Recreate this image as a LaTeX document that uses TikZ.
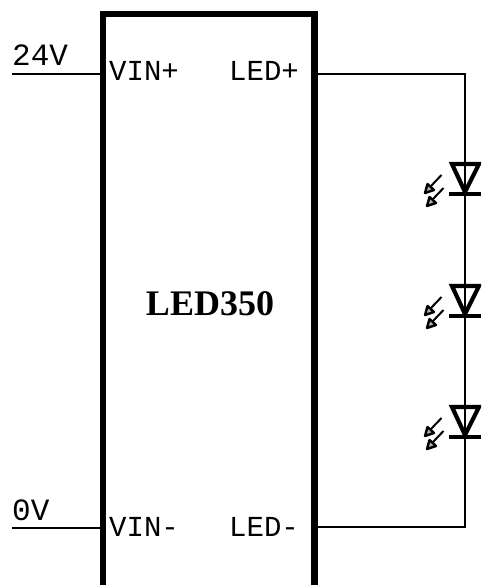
\documentclass[tikz,border=0pt]{standalone}
\usepackage{fontspec}
\setmainfont{Liberation Serif}
\newfontfamily\cadfont{Liberation Mono}
\usetikzlibrary{arrows.meta}
\tikzset{
  x=1pt,y=-1pt,
  wire/.style={line width=1.4pt,black},
  chip/.style={line width=6.5pt,black,line join=miter},
  cadtext/.style={font=\cadfont\fontsize{29}{29}\selectfont,inner sep=0pt,text=black},
  rail/.style={font=\cadfont\fontsize{31}{31}\selectfont,inner sep=0pt,text=black},
  title/.style={font=\fontsize{36}{36}\selectfont\bfseries,inner sep=0pt,text=black},
  diode/.style={line width=4.2pt,black,line join=miter},
  ray/.style={line width=2pt,black},
  rayhead/.style={line width=2.4pt,draw=black,fill=gray!60,line join=round}
}
\newcommand{\ledsym}[1]{%
  \draw[diode] (452,#1) -- (479,#1) -- (465,#1+28) -- cycle;
  \draw[diode] (449,#1+30) -- (481,#1+30);
  \draw[ray] (441.5,#1+11) -- (431,#1+22);
  \draw[rayhead] (425,#1+29) -- (427.5,#1+20) -- (434,#1+26) -- cycle;
  \draw[ray] (443.5,#1+24) -- (433,#1+35);
  \draw[rayhead] (427,#1+42) -- (429.5,#1+33) -- (436,#1+39) -- cycle;
}
\begin{document}
\begin{tikzpicture}
\useasboundingbox (0,0) rectangle (481,585);
\fill[white] (0,0) rectangle (481,585);
\clip (0,0) rectangle (481,585);
\coordinate (bl) at (103,590);
\coordinate (tl) at (103,14);
\coordinate (tr) at (314.5,14);
\coordinate (br) at (314.5,590);
\coordinate (in1) at (12,74);
\coordinate (in1e) at (101,74);
\coordinate (in2) at (12,528);
\coordinate (in2e) at (101,528);
\coordinate (o1) at (316,74);
\coordinate (o2) at (316,527);
\coordinate (c1) at (465,74);
\coordinate (c2) at (465,527);
\draw[wire] (in1) -- (in1e);
\draw[wire] (in2) -- (in2e);
\draw[wire] (o1) -- (c1) -- (c2) -- (o2);
\draw[chip] (bl) -- (tl) -- (tr) -- (br);
\node[rail,anchor=base west] (v24) at (12,66) {24V};
\node[rail,anchor=base west] (v0) at (12,520) {0V};
\node[cadtext,anchor=base west] (vp) at (109,81) {VIN+};
\node[cadtext,anchor=base west] (lp) at (229,81) {LED+};
\node[cadtext,anchor=base west] (vm) at (109,536) {VIN-};
\node[cadtext,anchor=base west] (lm) at (229,536) {LED-};
\node[title,anchor=base] (name) at (210,315) {LED350};
\ledsym{164}
\ledsym{286}
\ledsym{407}
\end{tikzpicture}
\end{document}
